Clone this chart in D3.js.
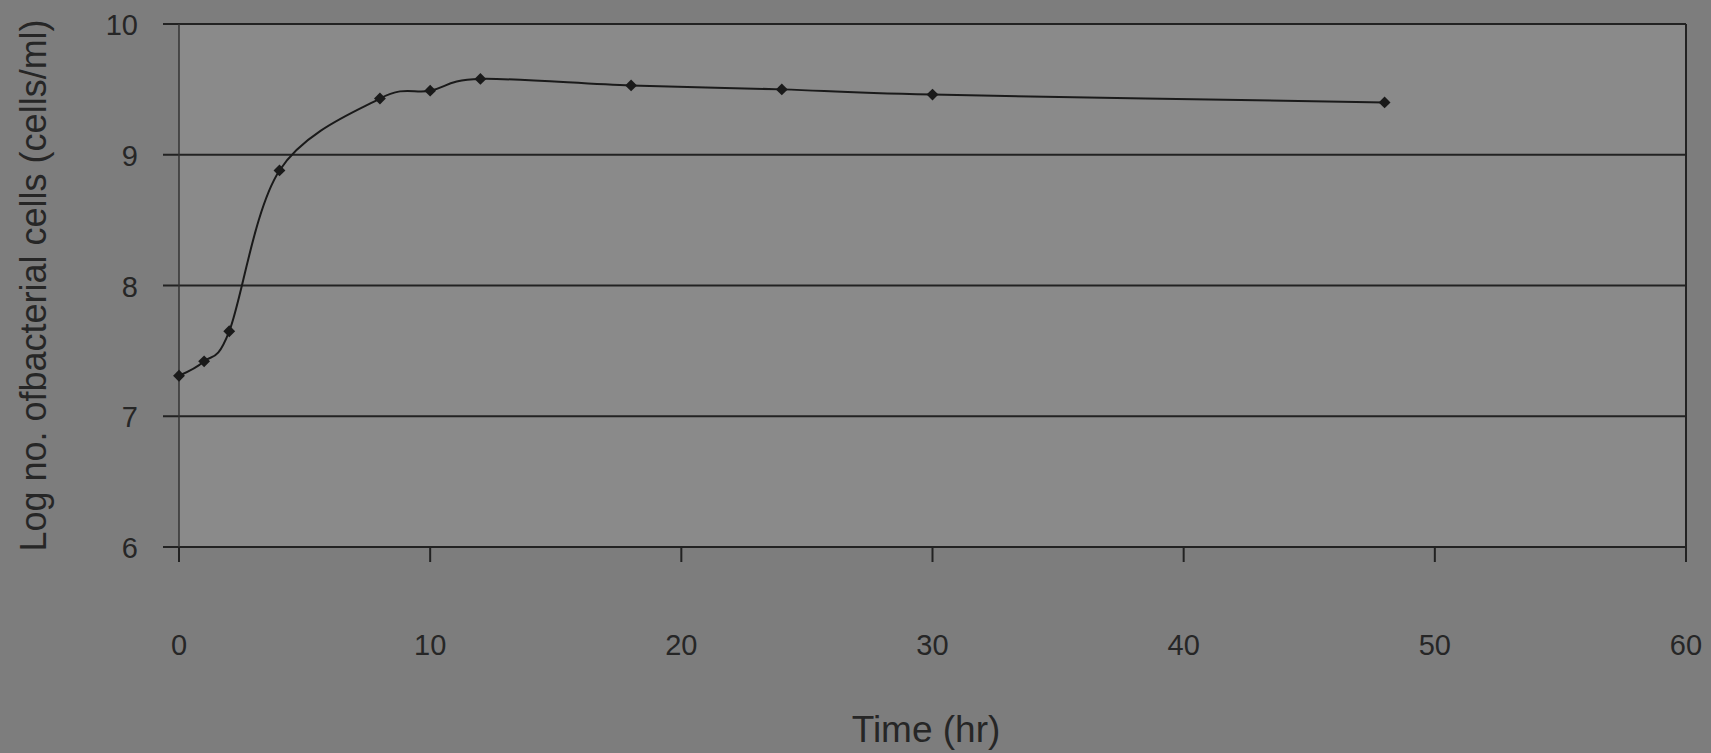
<!DOCTYPE html>
<html>
<head>
<meta charset="utf-8">
<script src="https://cdn.jsdelivr.net/npm/d3@7"></script>
<style>
  html, body { margin: 0; padding: 0; background: #7d7d7d; }
  svg { display: block; }
  text { font-family: "Liberation Sans", Arial, sans-serif; fill: #262626; }
</style>
</head>
<body>
<script>
// Growth curve: log bacterial count over incubation time
const timeHours = [0, 1, 2, 4, 8, 10, 12, 18, 24, 30, 48];
const logCells  = [7.31, 7.42, 7.65, 8.88, 9.43, 9.49, 9.58, 9.53, 9.50, 9.46, 9.40];
const xTicks = [0, 10, 20, 30, 40, 50, 60];
const yTicks = [6, 7, 8, 9, 10];
const xTitle = "Time (hr)";
const yTitle = "Log no. ofbacterial cells (cells/ml)";

const W = 1711, H = 753;
const margin = { left: 179, right: 25, top: 24, bottom: 206 };

const svg = d3.select("body").append("svg").attr("width", W).attr("height", H);

svg.append("rect").attr("width", W).attr("height", H).attr("fill", "#7d7d7d");

const x = d3.scaleLinear().domain([0, 60]).range([margin.left, W - margin.right]);
const y = d3.scaleLinear().domain([6, 10]).range([H - margin.bottom, margin.top]);

// plot area
svg.append("rect")
  .attr("x", x(0)).attr("y", y(10))
  .attr("width", x(60) - x(0)).attr("height", y(6) - y(10))
  .attr("fill", "#8a8a8a");

const ink = "#222";

// horizontal gridlines with left ticks
svg.append("g").selectAll("line").data(yTicks).join("line")
  .attr("x1", x(0) - 16).attr("x2", x(60))
  .attr("y1", d => y(d)).attr("y2", d => y(d))
  .attr("stroke", ink).attr("stroke-width", 2);

// x-axis ticks
svg.append("g").selectAll("line").data(xTicks).join("line")
  .attr("x1", d => x(d)).attr("x2", d => x(d))
  .attr("y1", y(6)).attr("y2", y(6) + 15)
  .attr("stroke", ink).attr("stroke-width", 2);

// left axis and right border
svg.append("line").attr("x1", x(0)).attr("x2", x(0))
  .attr("y1", y(10)).attr("y2", y(6)).attr("stroke", "#333").attr("stroke-width", 1.5);
svg.append("line").attr("x1", x(60)).attr("x2", x(60))
  .attr("y1", y(10)).attr("y2", y(6)).attr("stroke", ink).attr("stroke-width", 2);

// tick labels
svg.append("g").selectAll("text").data(yTicks).join("text")
  .attr("x", 138).attr("y", d => y(d) + 11)
  .attr("text-anchor", "end").attr("font-size", 29)
  .text(d => d);

svg.append("g").selectAll("text").data(xTicks).join("text")
  .attr("x", d => x(d)).attr("y", 655)
  .attr("text-anchor", "middle").attr("font-size", 29)
  .text(d => d);

// axis titles
svg.append("text")
  .attr("x", 926).attr("y", 742)
  .attr("text-anchor", "middle").attr("font-size", 37)
  .text(xTitle);

svg.append("text")
  .attr("transform", `translate(46, ${(y(6) + y(10)) / 2}) rotate(-90)`)
  .attr("text-anchor", "middle").attr("font-size", 36)
  .text(yTitle);

// smoothed series line
const pts = timeHours.map((t, i) => [t, logCells[i]]);
const line = d3.line()
  .x(d => x(d[0])).y(d => y(d[1]))
  .curve(d3.curveCardinal.tension(0));

svg.append("path").datum(pts)
  .attr("d", line)
  .attr("fill", "none").attr("stroke", "#1a1a1a").attr("stroke-width", 2);

// diamond markers (squares turned 45 degrees)
const marker = d3.symbol().type(d3.symbolSquare).size(70);
svg.append("g").selectAll("path").data(pts).join("path")
  .attr("transform", d => `translate(${x(d[0])},${y(d[1])}) rotate(45)`)
  .attr("d", marker)
  .attr("fill", "#1a1a1a");
</script>
</body>
</html>
